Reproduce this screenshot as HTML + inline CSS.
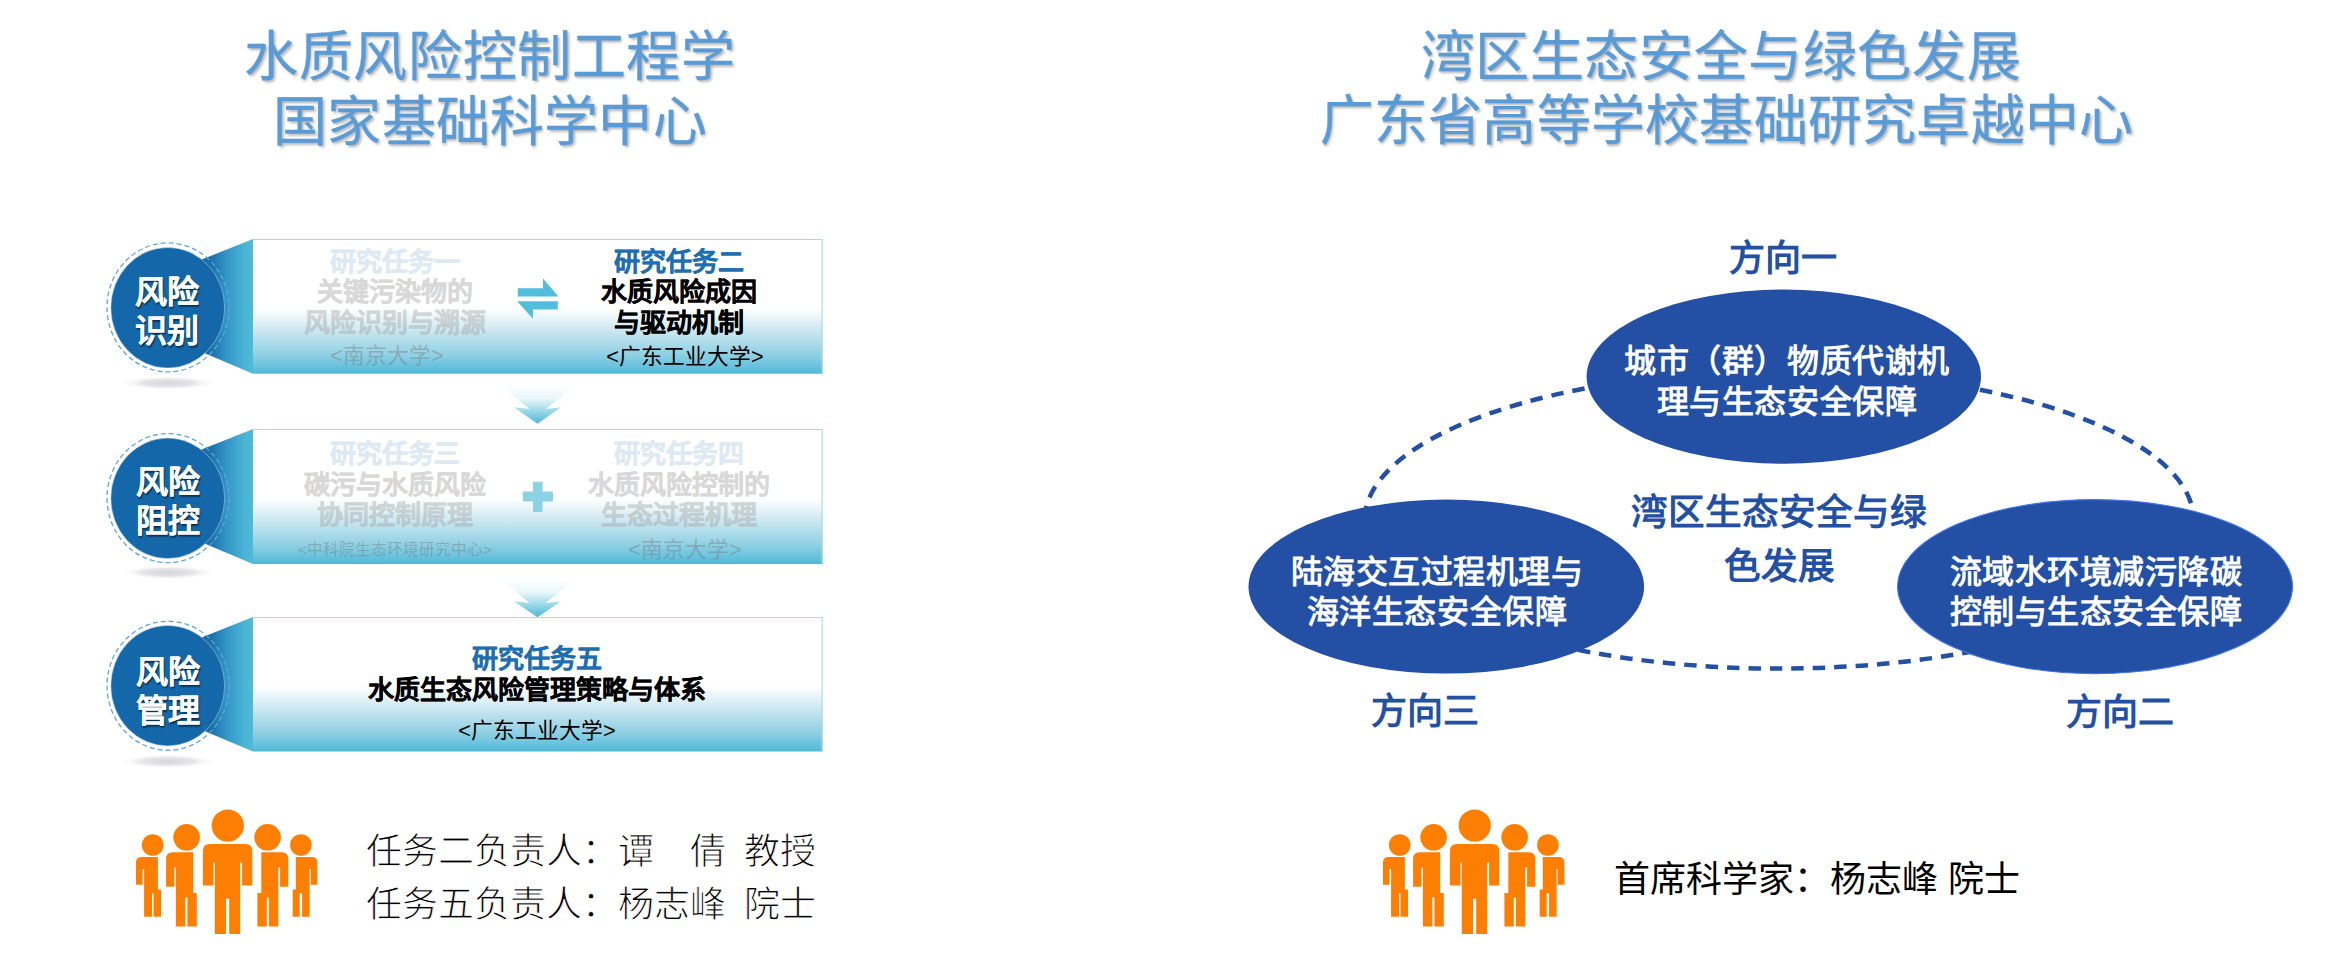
<!DOCTYPE html>
<html lang="zh-CN">
<head>
<meta charset="utf-8">
<style>
html,body{margin:0;padding:0;background:#fff;}
body{width:2330px;height:957px;position:relative;overflow:hidden;font-family:"Liberation Sans",sans-serif;}
.t{position:absolute;white-space:nowrap;text-align:center;}
svg{position:absolute;left:0;top:0;}
.title{color:#5b9bd5;font-size:54px;letter-spacing:0.6px;line-height:64px;text-shadow:1.5px 2px 3px rgba(0,0,0,0.3);-webkit-text-stroke:0.3px #5b9bd5;}
.ct{color:#fff;font-weight:bold;font-size:32px;line-height:39px;text-shadow:1px 1.5px 1.5px rgba(0,0,0,0.55);-webkit-text-stroke:0.15px #fff;}
.bh{font-weight:bold;font-size:26px;line-height:30.5px;}
.sk{-webkit-text-stroke:0.3px currentColor;}
.sub{font-size:21.7px;line-height:24px;}
.fa{color:#dde9f3;-webkit-text-stroke:0.35px #dde9f3;}
.fbw{opacity:0.4;}
.fb{color:#a0a0a0;-webkit-text-stroke:0.35px #a0a0a0;}
.fc{color:rgba(110,110,110,0.38);}
.dir{color:#2350a3;font-weight:bold;font-size:36px;line-height:40px;}
.et{color:#fff;font-weight:bold;font-size:32px;letter-spacing:0.55px;line-height:41.5px;}
.ppl{color:#000;font-size:36px;line-height:52px;}
.thin{-webkit-text-stroke:0.9px #fff;}
</style>
</head>
<body>
<svg width="2330" height="957" viewBox="0 0 2330 957">
<defs>
<linearGradient id="gbox" x1="0" y1="0" x2="0" y2="1">
<stop offset="0" stop-color="#fff"/>
<stop offset="0.515" stop-color="#fff"/>
<stop offset="0.69" stop-color="#c8e6f0"/>
<stop offset="0.86" stop-color="#8fd0e3"/>
<stop offset="1" stop-color="#50b9d8"/>
</linearGradient>
<linearGradient id="gtrap" x1="0" y1="0" x2="1" y2="0">
<stop offset="0" stop-color="#0d5d9a"/>
<stop offset="0.5" stop-color="#1b6fa9"/>
<stop offset="0.7" stop-color="#3597c8"/>
<stop offset="0.9" stop-color="#4ab4d5"/>
<stop offset="1" stop-color="#4fbada"/>
</linearGradient>
<linearGradient id="garr" x1="0" y1="0" x2="0" y2="1">
<stop offset="0" stop-color="#4cb8d8" stop-opacity="0"/>
<stop offset="0.35" stop-color="#4cb8d8" stop-opacity="0.12"/>
<stop offset="1" stop-color="#4cb8d8" stop-opacity="1"/>
</linearGradient>
<radialGradient id="gsh" cx="0.5" cy="0.5" r="0.5">
<stop offset="0" stop-color="#d6d6da"/>
<stop offset="0.55" stop-color="#e6e6e9"/>
<stop offset="1" stop-color="#fff" stop-opacity="0"/>
</radialGradient>
</defs>
<ellipse cx="168" cy="383.0" rx="48" ry="7" fill="url(#gsh)"/>
<polygon points="167.75,273.1 253.0,239.0 253.0,373.7 167.75,337.6" fill="url(#gtrap)"/>
<rect x="253.0" y="239.0" width="569.6" height="134.7" fill="url(#gbox)"/>
<path d="M253.0 239.5 H822.1 V373.7" fill="none" stroke="#aadbeb" stroke-width="1.1"/>
<ellipse cx="168" cy="307.4" rx="61" ry="64.5" fill="none" stroke="#5ea6dc" stroke-width="1.3" stroke-dasharray="5 3"/>
<ellipse cx="167.75" cy="307.75" rx="56.9" ry="60.25" fill="#1468a9" stroke="#d9e8f3" stroke-opacity="0.45" stroke-width="1"/>
<ellipse cx="168" cy="572.5" rx="48" ry="7" fill="url(#gsh)"/>
<polygon points="167.75,463.1 253.0,429.0 253.0,564.1 167.75,528.0" fill="url(#gtrap)"/>
<rect x="253.0" y="429.0" width="569.6" height="135.1" fill="url(#gbox)"/>
<path d="M253.0 429.5 H822.1 V564.1" fill="none" stroke="#aadbeb" stroke-width="1.1"/>
<ellipse cx="168" cy="498.1" rx="61" ry="64.5" fill="none" stroke="#5ea6dc" stroke-width="1.3" stroke-dasharray="5 3"/>
<ellipse cx="167.75" cy="498.3" rx="56.9" ry="60.25" fill="#1468a9" stroke="#d9e8f3" stroke-opacity="0.45" stroke-width="1"/>
<ellipse cx="168" cy="761.3" rx="48" ry="7" fill="url(#gsh)"/>
<polygon points="167.75,651.1 253.0,617.0 253.0,751.5 167.75,715.4" fill="url(#gtrap)"/>
<rect x="253.0" y="617.0" width="569.6" height="134.5" fill="url(#gbox)"/>
<path d="M253.0 617.5 H822.1 V751.5" fill="none" stroke="#aadbeb" stroke-width="1.1"/>
<ellipse cx="168" cy="685.75" rx="61" ry="64.5" fill="none" stroke="#5ea6dc" stroke-width="1.3" stroke-dasharray="5 3"/>
<ellipse cx="167.75" cy="685.7" rx="56.9" ry="60.25" fill="#1468a9" stroke="#d9e8f3" stroke-opacity="0.45" stroke-width="1"/>

<!-- chevrons -->
<polygon points="501,385 576.3,385 545.6,409.1 561,407.3 537.5,423.8 513.8,407.3 529.5,409.1" fill="url(#garr)"/>
<polygon points="501,579 576.3,579 545.6,603.1 561,601.3 537.5,617.3 513.8,601.3 529.5,603.1" fill="url(#garr)"/>
<!-- swap arrows -->
<polygon points="517.8,288.3 543,288.3 543,278.6 557.8,295.8 557.8,296.4 517.8,296.4" fill="#53bedb"/>
<polygon points="517.8,301.3 557.8,301.3 557.8,309.4 532.9,309.4 532.9,318.8 517.8,302" fill="#53bedb"/>
<!-- plus -->
<path d="M533 481.7 H542.6 V491.5 H552.9 V501.6 H542.6 V511.9 H533 V501.6 H522.8 V491.5 H533 Z" fill="#8cd2e5"/>
<!-- right diagram -->
<path d="M1779.2 371.11 A414.4 148.74 0 0 1 2193.60 519.85 A414.4 148.74 0 0 1 1779.2 668.59 A414.4 148.74 0 0 1 1364.80 519.85 A414.4 148.74 0 0 1 1779.2 371.11" fill="none" stroke="#2350a3" stroke-width="4.5" stroke-dasharray="12.45 9.0" stroke-dashoffset="12.71"/>
<ellipse cx="1783.8" cy="376.6" rx="197.2" ry="87.1" fill="#2350a4"/>
<ellipse cx="1446.3" cy="586.6" rx="197.8" ry="87" fill="#2350a4"/>
<ellipse cx="2095" cy="586.6" rx="197.5" ry="87" fill="#2350a4" stroke="#3f74ea" stroke-width="1.1"/>

<g id="ppl" fill="#fc7f03">
<circle cx="227.75" cy="825.5" r="16.1"/>
<path d="M209.9 843.9 H245.3 Q252.3 843.9 252.3 850.9 V885.6 H242.1 V862.4 H240.2 V934 H229.2 V898.7 H226 V934 H214.8 V862.4 H213.5 V885.6 H202.9 V850.9 Q202.9 843.9 209.9 843.9 Z"/>
<circle cx="186.6" cy="837.3" r="13.3"/>
<path d="M172.6 852.2 H193.2 V893 H196.8 V926.6 H187.4 V897.6 H185.3 V926.6 H175.9 V867.4 H174.4 V886.7 H166.1 V858.7 Q166.1 852.2 172.6 852.2 Z"/>
<circle cx="152.7" cy="845" r="10.8"/>
<path d="M141.5 856.9 H157.9 V889.5 H161 V916.8 H153.5 V893.3 H152 V916.8 H144.1 V869 H142.6 V884.8 H136 V862.4 Q136 856.9 141.5 856.9 Z"/>
<circle cx="267.6" cy="837.3" r="13.3"/>
<path d="M281.8 852.2 H261.3 V893 H257.4 V926.6 H266.8 V897.6 H268.9 V926.6 H278.3 V867.4 H280.1 V886.7 H288.3 V858.7 Q288.3 852.2 281.8 852.2 Z"/>
<circle cx="300.9" cy="845" r="10.8"/>
<path d="M311.9 856.9 H295.8 V889.5 H292.7 V916.8 H299.7 V893.3 H302.1 V916.8 H309.6 V869 H310.7 V884.8 H317.4 V862.4 Q317.4 856.9 311.9 856.9 Z"/>
</g>
<g fill="#fc7f03" transform="translate(1247,0)">
<circle cx="227.75" cy="825.5" r="16.1"/>
<path d="M209.9 843.9 H245.3 Q252.3 843.9 252.3 850.9 V885.6 H242.1 V862.4 H240.2 V934 H229.2 V898.7 H226 V934 H214.8 V862.4 H213.5 V885.6 H202.9 V850.9 Q202.9 843.9 209.9 843.9 Z"/>
<circle cx="186.6" cy="837.3" r="13.3"/>
<path d="M172.6 852.2 H193.2 V893 H196.8 V926.6 H187.4 V897.6 H185.3 V926.6 H175.9 V867.4 H174.4 V886.7 H166.1 V858.7 Q166.1 852.2 172.6 852.2 Z"/>
<circle cx="152.7" cy="845" r="10.8"/>
<path d="M141.5 856.9 H157.9 V889.5 H161 V916.8 H153.5 V893.3 H152 V916.8 H144.1 V869 H142.6 V884.8 H136 V862.4 Q136 856.9 141.5 856.9 Z"/>
<circle cx="267.6" cy="837.3" r="13.3"/>
<path d="M281.8 852.2 H261.3 V893 H257.4 V926.6 H266.8 V897.6 H268.9 V926.6 H278.3 V867.4 H280.1 V886.7 H288.3 V858.7 Q288.3 852.2 281.8 852.2 Z"/>
<circle cx="300.9" cy="845" r="10.8"/>
<path d="M311.9 856.9 H295.8 V889.5 H292.7 V916.8 H299.7 V893.3 H302.1 V916.8 H309.6 V869 H310.7 V884.8 H317.4 V862.4 Q317.4 856.9 311.9 856.9 Z"/>
</g>
</svg>
<!-- titles -->
<div class="t title" id="tl1" style="left:190px;top:24.5px;width:600px;">水质风险控制工程学</div>
<div class="t title" id="tl2" style="left:190px;top:89.5px;width:600px;letter-spacing:0.2px;">国家基础科学中心</div>
<div class="t title" id="tr1" style="left:1321px;top:24.5px;width:800px;">湾区生态安全与绿色发展</div>
<div class="t title" id="tr2" style="left:1319.5px;top:89px;width:800px;letter-spacing:0.25px;">广东省高等学校基础研究卓越中心</div>

<!-- circle text -->
<div class="t ct" id="c1" style="left:116.5px;top:273px;width:100px;">风险<br>识别</div>
<div class="t ct" id="c2" style="left:118px;top:462.5px;width:100px;">风险<br>阻控</div>
<div class="t ct" id="c3" style="left:118px;top:652.5px;width:100px;">风险<br>管理</div>

<!-- box 1 -->
<div class="t bh" id="b1a" style="left:245px;top:246.5px;width:300px;"><span class="fa">研究任务一</span><br><span class="fbw"><span class="fb">关键污染物的<br>风险识别与溯源</span></span></div>
<div class="t sub fc" id="b1b" style="left:237px;top:344px;width:300px;">&lt;南京大学&gt;</div>
<div class="t bh sk" id="b1c" style="left:529px;top:246.5px;width:300px;"><span style="color:#1f6eb0">研究任务二</span><br><span style="color:#000">水质风险成因<br>与驱动机制</span></div>
<div class="t sub" id="b1d" style="left:535px;top:345px;width:300px;color:#000;">&lt;广东工业大学&gt;</div>

<!-- box 2 -->
<div class="t bh" id="b2a" style="left:245px;top:439px;width:300px;"><span class="fa">研究任务三</span><br><span class="fbw"><span class="fb">碳污与水质风险<br>协同控制原理</span></span></div>
<div class="t sub fc" id="b2b" style="left:245px;top:537.5px;width:300px;font-size:15.5px;">&lt;中科院生态环境研究中心&gt;</div>
<div class="t bh" id="b2c" style="left:529px;top:439px;width:300px;"><span class="fa">研究任务四</span><br><span class="fbw"><span class="fb">水质风险控制的<br>生态过程机理</span></span></div>
<div class="t sub fc" id="b2d" style="left:535px;top:537.5px;width:300px;">&lt;南京大学&gt;</div>

<!-- box 3 -->
<div class="t bh sk" id="b3a" style="left:287px;top:644px;width:500px;"><span style="color:#1f6eb0">研究任务五</span><br><span style="color:#000">水质生态风险管理策略与体系</span></div>
<div class="t sub" id="b3b" style="left:387px;top:719px;width:300px;color:#000;">&lt;广东工业大学&gt;</div>

<!-- bottom text -->
<div class="t ppl thin" id="pl1" style="left:366px;top:825.5px;text-align:left;">任务二负责人：谭　倩&ensp;教授</div>
<div class="t ppl thin" id="pl2" style="left:366px;top:878.5px;text-align:left;">任务五负责人：杨志峰&ensp;院士</div>
<div class="t ppl" id="pr1" style="left:1613.5px;top:853.5px;text-align:left;">首席科学家：杨志峰 院士</div>

<!-- right diagram text -->
<div class="t dir" id="d1" style="left:1683px;top:239px;width:200px;">方向一</div>
<div class="t dir" id="d3" style="left:1325px;top:692px;width:200px;">方向三</div>
<div class="t dir" id="d2" style="left:2020px;top:692.5px;width:200px;">方向二</div>
<div class="t et" id="e1" style="left:1587px;top:340.5px;width:400px;">城市（群）物质代谢机<br>理与生态安全保障</div>
<div class="t et" id="e3" style="left:1237px;top:551.5px;width:400px;line-height:40.5px;">陆海交互过程机理与<br>海洋生态安全保障</div>
<div class="t et" id="e2" style="left:1896px;top:551.5px;width:400px;line-height:40.5px;">流域水环境减污降碳<br>控制与生态安全保障</div>
<div class="t dir" id="cen" style="left:1579px;top:486px;width:400px;line-height:53.6px;font-size:36.6px;">湾区生态安全与绿<br>色发展</div>

</body>
</html>
